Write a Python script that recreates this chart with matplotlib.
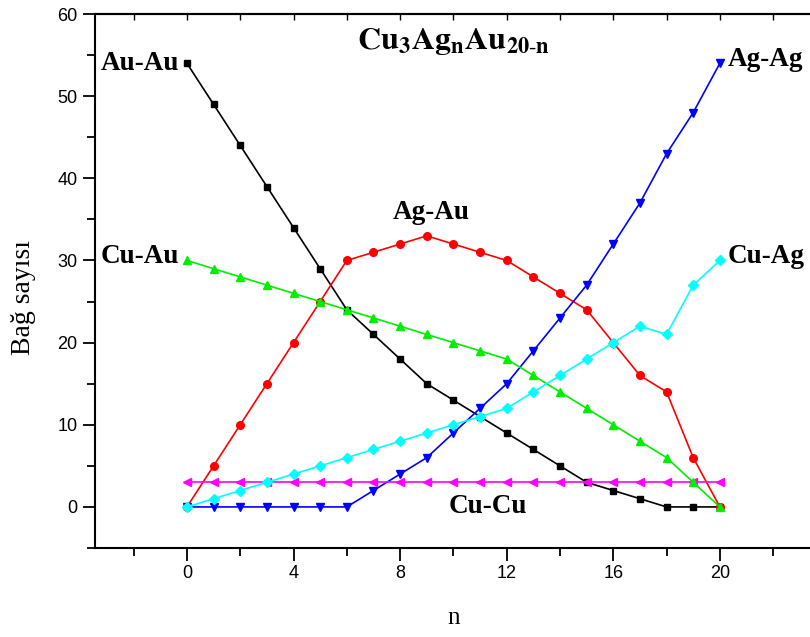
import numpy as np
import matplotlib
matplotlib.use("Agg")
import matplotlib.pyplot as plt
from matplotlib.ticker import MultipleLocator

# ----------------------------
# Daten
# ----------------------------
n = list(range(0, 21))
au_au = [54, 49, 44, 39, 34, 29, 24, 21, 18, 15, 13, 11, 9, 7, 5, 3, 2, 1, 0, 0, 0]
ag_au = [0, 5, 10, 15, 20, 25, 30, 31, 32, 33, 32, 31, 30, 28, 26, 24, 20, 16, 14, 6, 0]
ag_ag = [0, 0, 0, 0, 0, 0, 0, 2, 4, 6, 9, 12, 15, 19, 23, 27, 32, 37, 43, 48, 54]
cu_cu = [3] * 21
cu_au = [30, 29, 28, 27, 26, 25, 24, 23, 22, 21, 20, 19, 18, 16, 14, 12, 10, 8, 6, 3, 0]
cu_ag = [0, 1, 2, 3, 4, 5, 6, 7, 8, 9, 10, 11, 12, 14, 16, 18, 20, 22, 21, 27, 30]

plt.rcParams["mathtext.fontset"] = "stix"

fig = plt.figure(figsize=(8.1, 6.37), dpi=100)
ax = fig.add_axes([0.1173, 0.1397, 0.903, 0.8383])

ax.plot(n, au_au, color="black", marker="s", ms=5, lw=1.2)
ax.plot(n, ag_au, color="red", marker="o", ms=5.5, lw=1.2)
ax.plot(n, ag_ag, color="blue", marker="v", ms=6, lw=1.2)
ax.plot(n, cu_cu, color="magenta", marker="<", ms=6, lw=1.2)
ax.plot(n, cu_au, color="#00ee00", marker="^", ms=6, lw=1.2)
ax.plot(n, cu_ag, color="cyan", marker="D", ms=5, lw=1.2)

ax.set_xlim(-3.45, 24)
ax.set_ylim(-5, 60)

# Achsen / Ticks
ax.spines["right"].set_visible(False)
for s in ["left", "bottom", "top"]:
    ax.spines[s].set_linewidth(1.5)
ax.xaxis.set_major_locator(MultipleLocator(4))
ax.xaxis.set_minor_locator(MultipleLocator(2))
ax.yaxis.set_major_locator(MultipleLocator(10))
ax.yaxis.set_minor_locator(MultipleLocator(5))
ax.set_xticks([0, 4, 8, 12, 16, 20])
ax.tick_params(axis="both", which="major", direction="out", length=9, width=1.3,
               labelsize=13)
ax.tick_params(axis="both", which="minor", direction="out", length=6, width=1.3)
for lab in ax.get_xticklabels() + ax.get_yticklabels():
    lab.set_family("Liberation Sans")

top = ax.secondary_xaxis("top")
top.set_xticks(np.arange(-2, 25, 2))
top.tick_params(direction="in", length=4, width=1.0, labeltop=False)
top.spines["top"].set_linewidth(1.5)

serif = "Liberation Serif"
ax.set_ylabel("Bağ sayısı", family=serif, fontsize=20)
ax.yaxis.set_label_coords(-0.08, 0.47)
ax.set_xlabel("n", family=serif, fontsize=18)
ax.xaxis.set_label_coords(0.49, -0.11)

lab_kw = dict(family=serif, fontweight="bold", fontsize=19.5)
ax.text(-3.25, 54, "Au-Au", ha="left", va="center", **lab_kw)
ax.text(20.3, 54.5, "Ag-Ag", ha="left", va="center", **lab_kw)
ax.text(-3.25, 30.5, "Cu-Au", ha="left", va="center", **lab_kw)
ax.text(20.3, 30.5, "Cu-Ag", ha="left", va="center", **lab_kw)
ax.text(9.15, 35.8, "Ag-Au", ha="center", va="center", **lab_kw)
ax.text(11.3, 0.0, "Cu-Cu", ha="center", va="center", **lab_kw)
ax.text(10.0, 56.6, r"$\mathbf{Cu_3Ag_nAu_{20\text{-}n}}$", ha="center", va="center",
        fontsize=23)

fig.savefig("out.png", dpi=100)
